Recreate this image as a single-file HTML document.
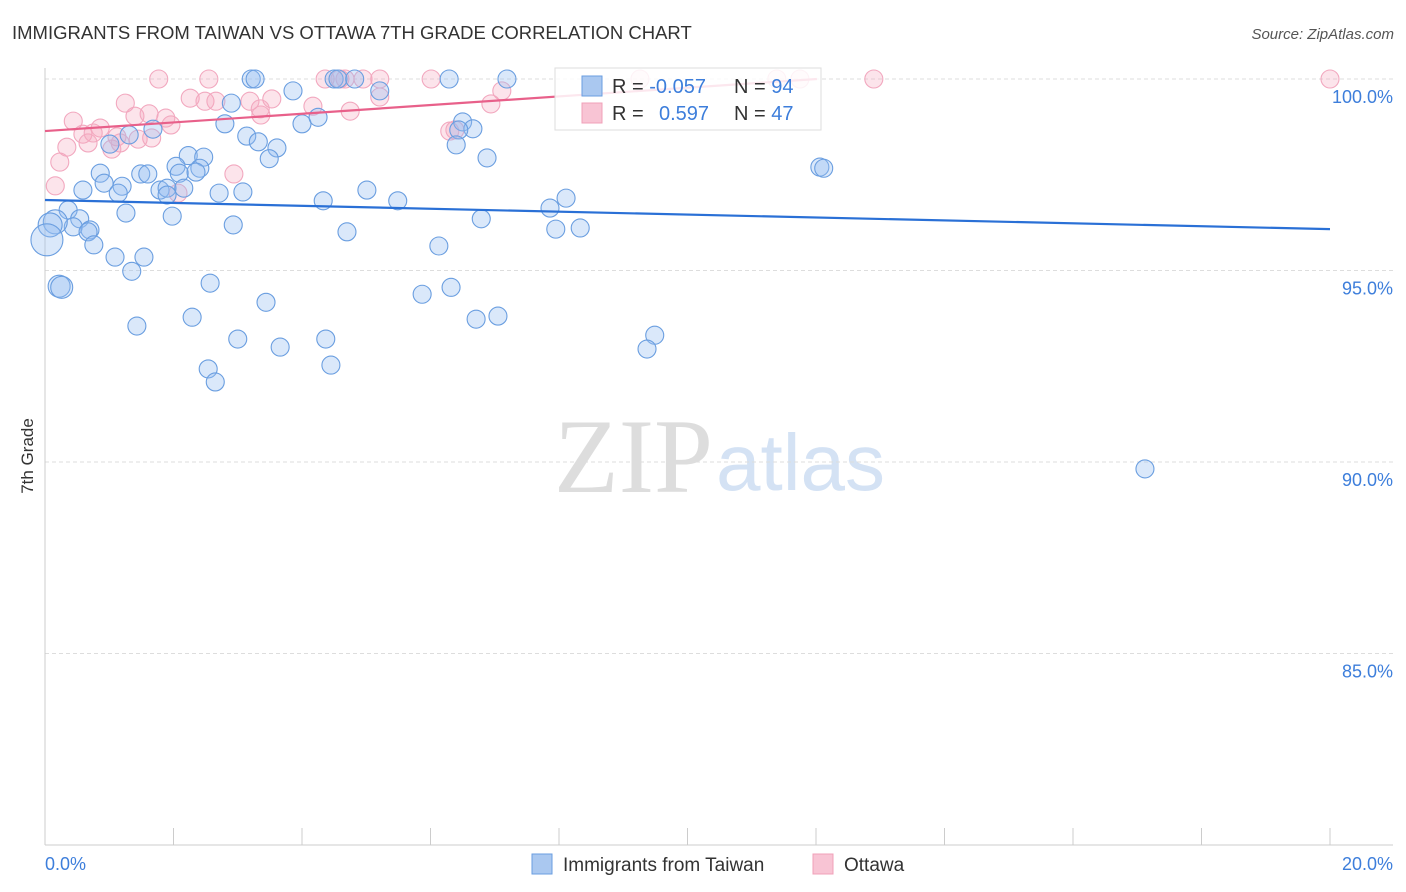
<!DOCTYPE html>
<html><head><meta charset="utf-8"><style>
body{margin:0;background:#fff;font-family:"Liberation Sans",sans-serif;}
svg{display:block}
</style></head><body>
<svg id="chart" width="1406" height="892">
<text x="12" y="39" font-size="18.5" fill="#333">IMMIGRANTS FROM TAIWAN VS OTTAWA 7TH GRADE CORRELATION CHART</text>
<text x="1394" y="39" font-size="15" fill="#555" font-style="italic" text-anchor="end">Source: ZipAtlas.com</text>
<text x="33" y="456" font-size="17" fill="#333" text-anchor="middle" transform="rotate(-90 33 456)">7th Grade</text>
<text x="554" y="492" font-size="106" fill="#ddd" font-family="Liberation Serif,serif">ZIP</text>
<text x="716" y="490" font-size="80" fill="#d4e2f4">atlas</text>
<g id="grid"></g><g id="pts"></g><g id="lines"></g>
<g>
<rect x="555" y="68" width="266" height="62" fill="#fff" fill-opacity="0.85" stroke="#ddd"/>
<rect x="582" y="76" width="20" height="20" fill="#aac8f0" stroke="#6a9ee0"/>
<rect x="582" y="103" width="20" height="20" fill="#f8c4d4" stroke="#f0a0b8"/>
<text x="612" y="93" font-size="20" fill="#333">R = <tspan fill="#3d7edb">-0.057</tspan><tspan x="734">N = </tspan><tspan fill="#3d7edb">94</tspan></text>
<text x="612" y="120" font-size="20" fill="#333">R = <tspan x="659" fill="#3d7edb">0.597</tspan><tspan x="734">N = </tspan><tspan fill="#3d7edb">47</tspan></text>
</g>
<g>
<rect x="532" y="854" width="20" height="20" fill="#aac8f0" stroke="#6a9ee0"/>
<text x="563" y="871" font-size="19" fill="#333">Immigrants from Taiwan</text>
<rect x="813" y="854" width="20" height="20" fill="#f8c4d4" stroke="#f0a0b8"/>
<text x="844" y="871" font-size="19" fill="#333">Ottawa</text>
</g>
<text x="45" y="870" font-size="18" fill="#3d7edb">0.0%</text>
<text x="1393" y="870" font-size="18" fill="#3d7edb" text-anchor="end">20.0%</text>
</svg>
<script>
const blueX=[3.21,3.27,4.5,4.56,4.82,6.29,7.19,3.86,5.21,2.9,2.8,4.0,4.25,6.5,6.66,6.44,6.4,1.31,1.68,1.01,3.14,3.32,3.61,3.49,6.88,2.23,2.47,2.04,2.41,2.09,2.35,1.49,1.6,0.86,0.92,1.2,1.14,0.59,1.79,1.9,2.16,1.9,2.71,3.08,5.01,5.49,4.33,8.11,7.86,1.26,1.98,0.36,0.54,0.44,0.16,0.08,0.7,0.67,0.76,0.03,2.93,4.7,7.95,8.33,6.79,6.13,1.09,1.54,1.35,0.22,0.26,2.57,3.44,5.87,6.32,1.43,2.29,6.71,7.05,4.37,3.0,3.66,9.49,9.37,2.54,2.65,4.45,12.06,12.12,17.12];
const blueY=[100,100,100,100,100,100,100,99.69,99.69,99.37,98.83,98.83,99.0,98.88,98.7,98.67,98.28,98.54,98.69,98.3,98.51,98.36,98.2,97.92,97.94,98.0,97.96,97.72,97.67,97.54,97.57,97.52,97.52,97.54,97.28,97.2,97.02,97.1,97.1,97.15,97.15,96.97,97.02,97.05,97.1,96.82,96.82,96.89,96.63,96.5,96.42,96.58,96.35,96.14,96.27,96.19,96.06,96.01,95.67,95.8,96.19,96.01,96.08,96.11,96.35,95.64,95.35,95.35,94.98,94.59,94.56,94.67,94.17,94.38,94.56,93.55,93.78,93.73,93.81,93.21,93.21,93.0,93.31,92.95,92.43,92.09,92.53,97.7,97.67,89.82];
const blueR=[9,9,9,9,9,9,9,9,9,9,9,9,9,9,9,9,9,9,9,9,9,9,9,9,9,9,9,9,9,9,9,9,9,9,9,9,9,9,9,9,9,9,9,9,9,9,9,9,9,9,9,9,9,9,12,12,9,9,9,16,9,9,9,9,9,9,9,9,9,11,11,9,9,9,9,9,9,9,9,9,9,9,9,9,9,9,9,9,9,9];
const pinkX=[1.77,2.55,4.59,4.67,4.95,5.21,6.01,9.26,12.9,20,1.25,2.26,2.49,2.66,3.19,3.53,4.17,4.75,5.21,7.11,6.94,0.44,0.86,0.59,0.34,0.23,0.16,1.4,1.62,1.88,1.96,1.12,0.67,1.04,1.45,1.66,3.35,3.36,2.94,2.07,6.3,11.75,11.39,6.38,0.75,1.17,4.36];
const pinkY=[100,100,100,100,100,100,100,100,100,100,99.37,99.5,99.42,99.42,99.42,99.48,99.29,99.16,99.53,99.69,99.35,98.9,98.72,98.56,98.22,97.83,97.21,99.03,99.09,98.98,98.8,98.49,98.33,98.17,98.43,98.46,99.22,99.06,97.52,97.02,98.64,100,100,98.67,98.59,98.33,100];
const blueLine=[96.84,96.08];
const pinkLine=[98.64,0.1132];
const xTicks=[0,2,4,6,8,10,12,14,16,18,20];
const yTicks=[100,95,90,85];
const yLabels=["100.0%","95.0%","90.0%","85.0%"];
const NS="http://www.w3.org/2000/svg";
const X=v=>45+v/20*1285, Y=v=>79+(100-v)/5*191.5;
function mk(t,a,p){const e=document.createElementNS(NS,t);for(const k in a)e.setAttribute(k,a[k]);p.appendChild(e);return e;}
const g=document.getElementById('grid');
yTicks.forEach((t,i)=>{
 const l=mk('line',{x1:45,x2:1393,y1:Y(t),y2:Y(t),stroke:'#ddd','stroke-dasharray':'4,3'},g);
 
 
 const tx=mk('text',{x:1393,y:Y(t)+24,'font-size':18,fill:'#3d7edb','text-anchor':'end'},g);
 tx.textContent=yLabels[i];
 
 
});
mk('line',{x1:45,x2:45,y1:68,y2:845,stroke:'#ccc'},g);
mk('line',{x1:45,x2:1393,y1:845,y2:845,stroke:'#ccc'},g);
xTicks.forEach(t=>{const l=mk('line',{x1:X(t),x2:X(t),y1:828,y2:845,stroke:'#ccc'},g);
 
 });
const p=document.getElementById('pts');
pinkX.forEach((x,i)=>{const c=mk('circle',{cx:X(x),cy:Y(pinkY[i]),r:9,fill:'rgba(245,165,190,0.3)',stroke:'#f2a8bf','stroke-width':1.1},p);
 
 });
blueX.forEach((x,i)=>{const c=mk('circle',{cx:X(x),cy:Y(blueY[i]),r:blueR[i],fill:'rgba(150,190,240,0.35)',stroke:'#6a9ee0','stroke-width':1.1},p);
 
 });
const L=document.getElementById('lines');
const bl=mk('line',{x1:X(0),y1:Y(blueLine[0]),x2:X(20),y2:Y(blueLine[1]),stroke:'#2a70d6','stroke-width':2.2},L);


const xe=Math.min(20,(100-pinkLine[0])/pinkLine[1]);
const pl=mk('line',{x1:X(0),y1:Y(pinkLine[0]),x2:X(xe),y2:Y(pinkLine[0]+pinkLine[1]*xe),stroke:'#e8608a','stroke-width':2.2},L);


</script>
</body></html>
